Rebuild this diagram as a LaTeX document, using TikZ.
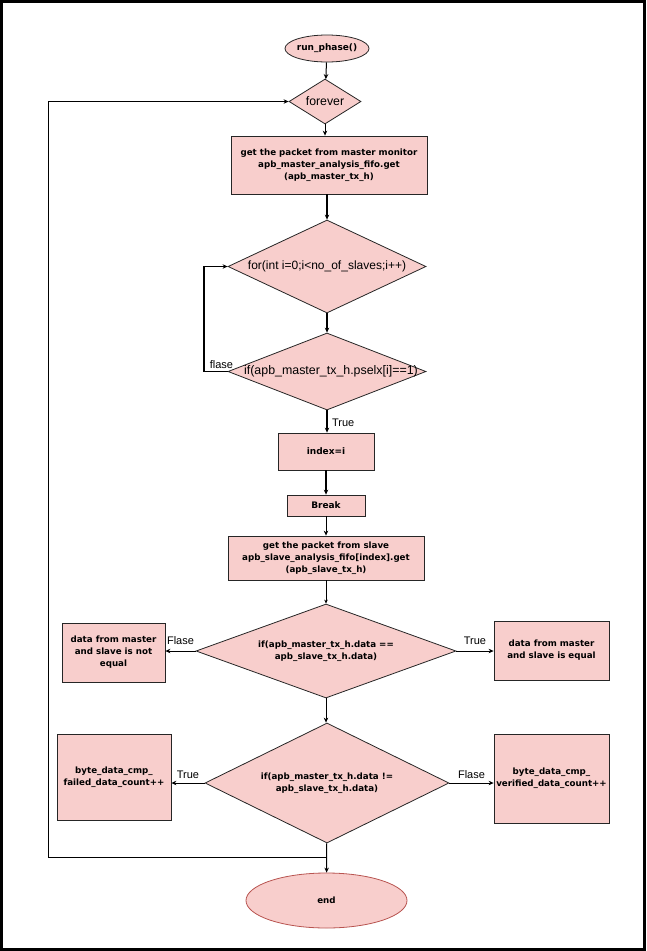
\documentclass[tikz,border=0pt]{standalone}
\usepackage{fontspec}
\setmainfont{Liberation Sans}
\newfontfamily\boxfont{DejaVu Sans}
\usetikzlibrary{shapes.geometric,arrows.meta}
\definecolor{pinkfill}{HTML}{F8CECC}
\definecolor{redline}{HTML}{B85450}
\tikzset{
  boxnode/.style={draw=black!85, fill=pinkfill, line width=0.8pt, inner sep=0pt},
  dianode/.style={draw=black!85, fill=pinkfill, diamond, line width=0.8pt, inner sep=0pt},
  ellnode/.style={draw=black!85, fill=pinkfill, ellipse, line width=0.8pt, inner sep=0pt},
  btext/.style={font=\boxfont\bfseries\fontsize{8.7}{12}\selectfont, align=center},
  dtext/.style={font=\fontsize{12}{14}\selectfont, align=center},
  lbl/.style={font=\fontsize{11}{13}\selectfont},
  conn/.style={line width=1pt, -{Stealth[length=5pt,width=4.5pt]}},
  thick conn/.style={line width=1.6pt, -{Stealth[length=5pt,width=4.5pt]}},
  thin conn/.style={line width=0.6pt, -{Stealth[length=4pt,width=3.5pt]}},
}
\begin{document}
\begin{tikzpicture}[x=1pt,y=-1pt]
\useasboundingbox (0,0) rectangle (646,951);
\draw[line width=3pt] (1.5,1.5) rectangle (644.5,949.5);

% nodes
\node[ellnode, minimum width=84pt, minimum height=27pt] (start) at (327,48.5) {};
\node[btext, font=\boxfont\bfseries\fontsize{9}{11}\selectfont] at (start) {run\_phase()};

\node[dianode, minimum width=72pt, minimum height=45pt] (forever) at (325,101.5) {};
\node[dtext, font=\fontsize{12.3}{14}\selectfont] at (forever) {forever};

\node[boxnode, minimum width=196pt, minimum height=58pt] (getm) at (329,165) {};
\node[btext] at (getm) {get the packet from master monitor\\apb\_master\_analysis\_fifo.get\\(apb\_master\_tx\_h)};

\node[dianode, minimum width=198pt, minimum height=93pt] (fordia) at (327,266.5) {};
\node[dtext] at (fordia) {for(int i=0;i<no\_of\_slaves;i++)};

\node[dianode, minimum width=198pt, minimum height=77pt] (ifsel) at (327,371.5) {};
\node[dtext, font=\fontsize{12.4}{14}\selectfont] at ([xshift=4pt]ifsel.center) {if(apb\_master\_tx\_h.pselx[i]==1)};

\node[boxnode, minimum width=96pt, minimum height=37pt] (idx) at (326,451.5) {};
\node[btext, font=\boxfont\bfseries\fontsize{9}{11}\selectfont] at (idx) {index=i};

\node[boxnode, minimum width=78pt, minimum height=21pt] (brk) at (326,505.5) {};
\node[btext, font=\boxfont\bfseries\fontsize{9}{11}\selectfont] at (brk) {Break};

\node[boxnode, minimum width=196pt, minimum height=44pt] (gets) at (326,558) {};
\node[btext] at (gets) {get the packet from slave\\apb\_slave\_analysis\_fifo[index].get\\(apb\_slave\_tx\_h)};

\node[dianode, minimum width=260pt, minimum height=94pt] (ifeq) at (326,651) {};
\node[btext] at (ifeq) {if(apb\_master\_tx\_h.data ==\\apb\_slave\_tx\_h.data)};

\node[boxnode, minimum width=103pt, minimum height=59pt] (neq) at (113.5,652.5) {};
\node[btext] at (neq) {data from master\\and slave is not\\equal};

\node[boxnode, minimum width=115pt, minimum height=59pt] (eq) at (551.5,650.5) {};
\node[btext] at (eq) {data from master\\and slave is equal};

\node[dianode, minimum width=244pt, minimum height=120pt] (ifne) at (327,783) {};
\node[btext] at (ifne) {if(apb\_master\_tx\_h.data !=\\apb\_slave\_tx\_h.data)};

\node[boxnode, minimum width=114pt, minimum height=86pt] (fail) at (114,777) {};
\node[btext] at (fail) {byte\_data\_cmp\_\\failed\_data\_count++};

\node[boxnode, minimum width=115pt, minimum height=89pt] (ver) at (551.5,778.5) {};
\node[btext] at (ver) {byte\_data\_cmp\_\\verified\_data\_count++};

\node[ellnode, draw=redline, minimum width=161pt, minimum height=55pt] (endn) at (326.5,900.5) {};
\node[btext] at (endn) {end};

\coordinate (loopL) at (48,857);
\coordinate (loopB) at (327,857);
\coordinate (flL) at (204,371.5);

% connectors
\draw[conn] (start) -- (forever);
\draw[conn] (forever) -- (getm.north -| forever);
\draw[thick conn] (getm.south -| fordia) -- (fordia);
\draw[thick conn] (fordia) -- (ifsel);
\draw[thick conn] (ifsel) -- (idx.north -| ifsel) node[lbl, pos=0.55, right, xshift=1pt] {True};
\draw[thick conn] (idx) -- (brk);
\draw[conn] (brk) -- (gets);
\draw[thin conn] (gets) -- (ifeq);
\draw[conn] (ifeq) -- (ifne.north -| ifeq);
\draw[conn] (ifeq.west) -- (neq.east |- ifeq.west) node[lbl, midway, above, yshift=3pt] {Flase};
\draw[conn] (ifeq.east) -- (eq.west |- ifeq.east) node[lbl, midway, above, yshift=3pt] {True};
\draw[conn] (ifne.west) -- (fail.east |- ifne.west) node[lbl, midway, above, yshift=1pt] {True};
\draw[conn] (ifne.east) -- (ver.west |- ifne.east) node[lbl, midway, above, yshift=1pt] {Flase};
\draw[conn] (ifne) -- (endn);
\draw[line width=1pt] (ifsel.west) -- (flL) node[lbl, above right, xshift=2pt, yshift=-1pt] {flase};
\draw[line width=1.6pt, -{Stealth[length=5pt,width=4.5pt]}] (flL) |- (fordia.west);
\draw[line width=1pt] (loopB) -- (loopL);
\draw[conn] (loopL) |- (forever.west);
\end{tikzpicture}
\end{document}
